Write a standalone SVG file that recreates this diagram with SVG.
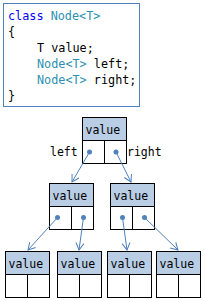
<svg xmlns="http://www.w3.org/2000/svg" width="205" height="300" viewBox="0 0 205 300">
<style>
.code{font-family:"DejaVu Sans Mono","Liberation Mono",monospace;font-size:11.8px;fill:#000}
.kw{fill:#0000ff}
.ty{fill:#2b91af}
.hdr{fill:#b9cde5;stroke:#000;stroke-width:1}
.cell{fill:#fff;stroke:#000;stroke-width:1}
.lbl{font-family:"DejaVu Sans Mono","Liberation Mono",monospace;font-size:11.5px;fill:#000}
.dot{fill:#4f81bd}
.con{stroke:#4f81bd;stroke-width:1;fill:none;marker-end:url(#arr)}
</style>
<defs>
<marker id="arr" markerUnits="userSpaceOnUse" markerWidth="12" markerHeight="12" refX="0" refY="0" viewBox="-8 -6 10 12" orient="auto">
<path d="M-7,-4 L0,0 L-7,4" fill="none" stroke="#4f81bd" stroke-width="1"/>
</marker>
<g id="nodeShape">
<rect class="hdr" x="0" y="0" width="44" height="23"/>
<rect class="cell" x="0" y="23" width="22" height="23"/>
<rect class="cell" x="22" y="23" width="22" height="23"/>
<text class="lbl" x="3" y="16">value</text>
</g>
</defs>
<g id="code">
<rect x="3.5" y="3.5" width="136" height="103" fill="#fff" stroke="#4f81bd" stroke-width="1"/>
<text class="code" x="8" y="20"><tspan class="kw">class</tspan> <tspan class="ty">Node&lt;T&gt;</tspan></text>
<text class="code" x="8" y="36">{</text>
<text class="code" x="37" y="52">T value;</text>
<text class="code" x="37" y="68"><tspan class="ty">Node&lt;T&gt;</tspan> left;</text>
<text class="code" x="37" y="84"><tspan class="ty">Node&lt;T&gt;</tspan> right;</text>
<text class="code" x="8" y="100">}</text>
</g>
<g id="n-root">
<use href="#nodeShape" x="82.5" y="117.5"/>
<circle class="dot" cx="89.5" cy="152" r="2.5"/>
<circle class="dot" cx="116" cy="152" r="2.5"/>
</g>
<g id="n-l">
<use href="#nodeShape" x="49.5" y="183.5"/>
<circle class="dot" cx="57.5" cy="217.5" r="2.5"/>
<circle class="dot" cx="83.5" cy="217.5" r="2.5"/>
</g>
<g id="n-r">
<use href="#nodeShape" x="110.5" y="183.5"/>
<circle class="dot" cx="122.5" cy="217.5" r="2.5"/>
<circle class="dot" cx="144.5" cy="217.5" r="2.5"/>
</g>
<g id="n-ll"><use href="#nodeShape" x="5.5" y="251.5"/></g>
<g id="n-lr"><use href="#nodeShape" x="57.5" y="251.5"/></g>
<g id="n-rl"><use href="#nodeShape" x="107.5" y="251.5"/></g>
<g id="n-rr"><use href="#nodeShape" x="156.5" y="251.5"/></g>
<g id="labels">
<text class="lbl" x="50" y="156">left</text>
<text class="lbl" x="127" y="156">right</text>
</g>
<g id="connectors">
<line class="con" x1="89.5" y1="152" x2="72" y2="182"/>
<line class="con" x1="116" y1="152" x2="131" y2="182"/>
<line class="con" x1="57.5" y1="217.5" x2="28" y2="250"/>
<line class="con" x1="83.5" y1="217.5" x2="79" y2="250"/>
<line class="con" x1="122.5" y1="217.5" x2="127" y2="250"/>
<line class="con" x1="144.5" y1="217.5" x2="178" y2="250"/>
</g>
</svg>
